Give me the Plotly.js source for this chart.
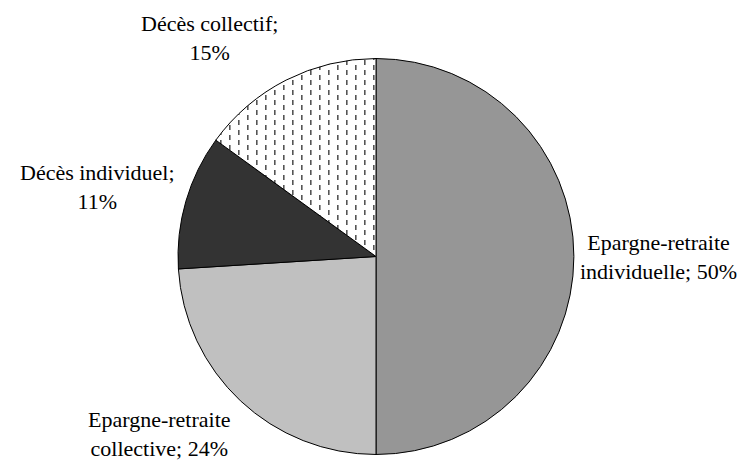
<!DOCTYPE html>
<html>
<head>
<meta charset="utf-8">
<script src="https://cdn.plot.ly/plotly-3.0.1.min.js"></script>
<style>html,body{margin:0;padding:0;background:#fff;}#chart{width:747px;height:463px;}</style>
</head>
<body>
<svg width="0" height="0" style="position:absolute">
  <defs>
    <pattern id="dashpat" patternUnits="userSpaceOnUse" width="18" height="10">
      <rect x="0" y="0" width="18" height="10" fill="#ffffff"></rect>
      <rect x="4" y="0" width="1.6" height="5" fill="#555555"></rect>
      <rect x="13" y="5" width="1.6" height="5" fill="#555555"></rect>
    </pattern>
  </defs>
</svg>
<div id="chart"></div>
<script>
// ---- data ----
const categories = ["Epargne-retraite individuelle", "Epargne-retraite collective", "Décès individuel", "Décès collectif"];
const values = [50, 24, 11, 15];

// ---- styles / layout (not data) ----
const colors = ["#969696", "#c0c0c0", "#333333", "#ffffff"];
const dashedSlice = "Décès collectif";
// label centres in paper coordinates
const labelX = [0.882, 0.214, 0.130, 0.281];
const labelY = [0.445, 0.063, 0.596, 0.918];
const FONT = "Liberation Serif";

function labelText(cat, v) {
  if (cat.indexOf("Epargne") === 0) {
    const i = cat.indexOf(" ");
    return cat.slice(0, i) + "<br>" + cat.slice(i + 1) + "; " + v + "%";
  }
  return cat + ";<br>" + v + "%";
}

const trace = {
  type: "pie",
  labels: categories,
  values: values,
  textinfo: "none",
  sort: false,
  direction: "clockwise",
  automargin: false,
  showlegend: false,
  domain: {x: [0.2383, 0.7684], y: [0.0173, 0.8747]},
  marker: {
    colors: colors,
    line: {color: "#000000", width: 1}
  }
};

const annotations = categories.map((c, i) => ({
  xref: "paper", yref: "paper",
  x: labelX[i], y: labelY[i],
  xanchor: "center", yanchor: "middle",
  showarrow: false,
  text: labelText(c, values[i]),
  font: {family: FONT, size: 22, color: "#000000"}
}));

const layout = {
  width: 747, height: 463,
  margin: {l: 0, r: 0, t: 0, b: 0},
  font: {family: FONT, size: 22},
  annotations: annotations
};

Plotly.newPlot("chart", [trace], layout, {staticPlot: true}).then(function () {
  try {
    const idx = categories.indexOf(dashedSlice);
    const paths = document.querySelectorAll("#chart g.slice path.surface");
    if (paths[idx]) paths[idx].style.fill = "url(#dashpat)";
  } catch (e) {}
  try {
    document.querySelectorAll("#chart .annotation-text").forEach(function (el) {
      el.style.fontFamily = "'Liberation Serif', 'Times New Roman', serif";
      el.style.fontSize = "22px";
      el.style.fill = "#000000";
    });
  } catch (e) {}
});
</script>
</body>
</html>
